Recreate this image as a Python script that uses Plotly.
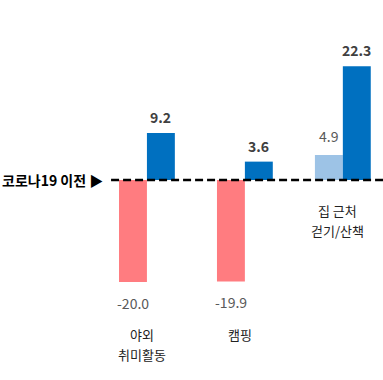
import plotly.graph_objects as go

categories = ["야외 취미활동", "캠핑", "집 근처 걷기/산책"]
cat_label_lines = [["야외", "취미활동"], ["캠핑"], ["집 근처", "걷기/산책"]]
before_vals = [-20.0, -19.9, 4.9]
after_vals = [9.2, 3.6, 22.3]
before_colors = ["#FF7C80", "#FF7C80", "#9DC3E6"]
after_color = "#0070C0"
baseline_label = "코로나19 이전 ▶"

FONT = "Noto Sans CJK KR, Malgun Gothic, sans-serif"

fig = go.Figure()
fig.add_trace(go.Bar(x=categories, y=before_vals, marker=dict(color=before_colors, line=dict(width=0)),
                     showlegend=False, hoverinfo="skip"))
fig.add_trace(go.Bar(x=categories, y=after_vals, marker=dict(color=after_color, line=dict(width=0)),
                     showlegend=False, hoverinfo="skip"))

annotations = []
def fmt(v):
    s = f"{abs(v):.1f}"
    return ("-" if v < 0 else "") + s

for c, v in zip(categories, before_vals):
    annotations.append(dict(x=c, y=v, xref="x", yref="y", xshift=-14,
                            yshift=(-21 if v < 0 else 19), yanchor="middle", xanchor="center",
                            text=fmt(v), showarrow=False,
                            font=dict(family=FONT, size=14, color="#595959")))
for c, v in zip(categories, after_vals):
    annotations.append(dict(x=c, y=v, xref="x", yref="y", xshift=14,
                            yshift=16, yanchor="middle", xanchor="center",
                            text="<b>" + fmt(v) + "</b>", showarrow=False,
                            font=dict(family=FONT, size=14, color="#404040")))

# category labels (line centers in px below the zero line)
for i, (c, lines) in enumerate(zip(categories, cat_label_lines)):
    first = -155 if i < 2 else -31
    for j, line in enumerate(lines):
        annotations.append(dict(x=c, y=0, xref="x", yref="y", xshift=-5, yshift=first - 20 * j,
                                yanchor="middle", xanchor="center", text=line, showarrow=False,
                                font=dict(family=FONT, size=13, color="#222222")))

annotations.append(dict(x=0, y=0, xref="paper", yref="y", xanchor="left", yanchor="middle",
                        xshift=0, text="<b>" + baseline_label + "</b>", showarrow=False,
                        font=dict(family=FONT, size=14, color="#000000")))

fig.update_layout(
    width=383, height=380,
    margin=dict(l=0, r=0, t=0, b=0),
    paper_bgcolor="white", plot_bgcolor="white",
    barmode="group", bargap=0.43, bargroupgap=0,
    xaxis=dict(range=[-1.5, 2.41], showgrid=False, zeroline=False, showticklabels=False,
               showline=False, ticks=""),
    yaxis=dict(range=[-39.22, 35.29], showgrid=False, zeroline=False, showticklabels=False,
               showline=False, ticks=""),
    annotations=annotations,
    shapes=[dict(type="line", xref="paper", yref="y", x0=0.29, x1=1, y0=0, y1=0,
                 line=dict(color="black", width=2.5, dash="8px,4px"))],
)

fig.write_html("out.html", config={"displayModeBar": False},
               post_script="document.body.style.margin='0';document.body.style.overflow='hidden';")
